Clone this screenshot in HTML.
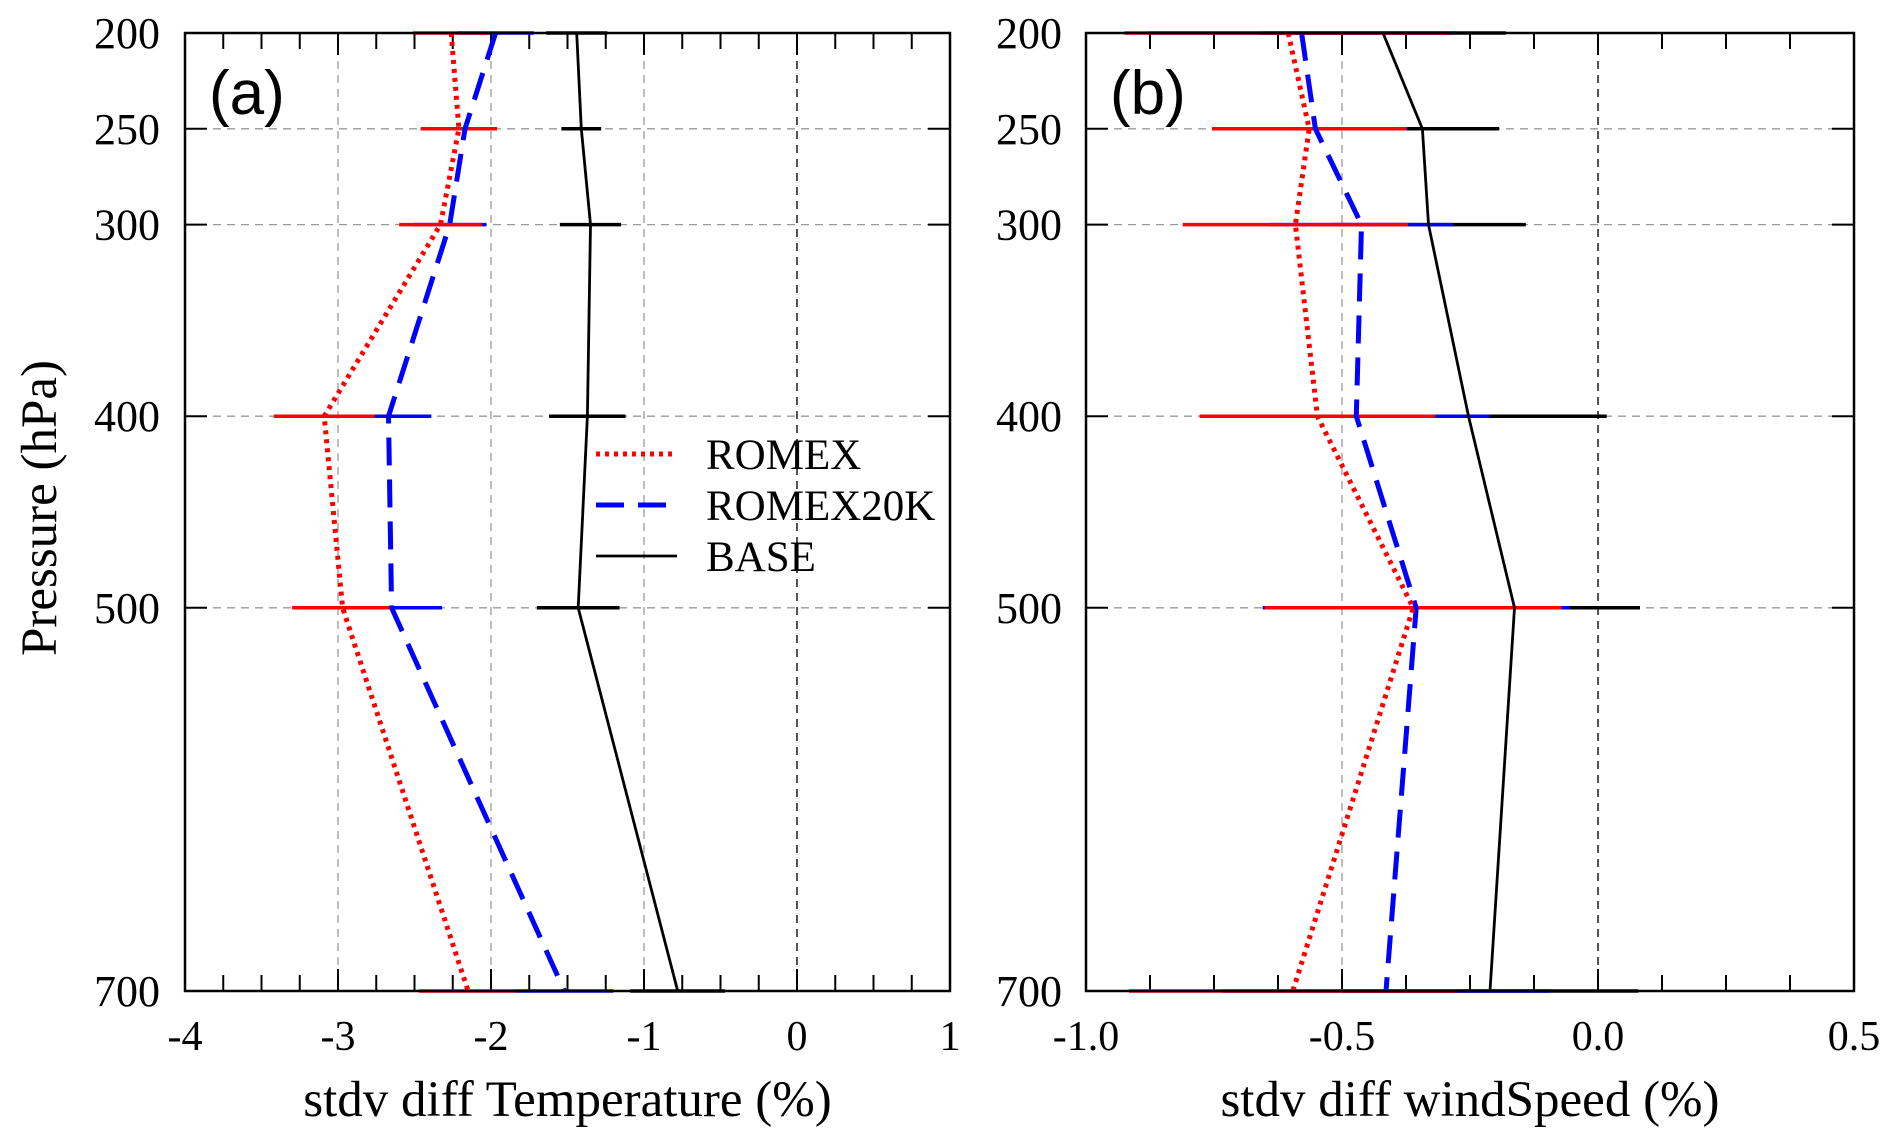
<!DOCTYPE html>
<html><head><meta charset="utf-8"><style>
html,body{margin:0;padding:0;background:#fff}
svg{display:block}
text{font-family:"Liberation Serif",serif;fill:#000}
</style></head><body>
<svg id="chart" width="1892" height="1145" viewBox="0 0 1892 1145" xmlns="http://www.w3.org/2000/svg"></svg>
<script>
const pressures=[200,250,300,400,500,700];
const tempRomex=[-2.26,-2.21,-2.33,-3.09,-2.97,-2.15];
const tempRomexErr=[0.25,0.25,0.27,0.33,0.33,0.32];
const tempRomex20k=[-1.97,-2.17,-2.27,-2.67,-2.65,-1.52];
const tempRomex20kErr=[0.25,0.17,0.24,0.28,0.33,0.32];
const tempBase=[-1.44,-1.41,-1.35,-1.37,-1.43,-0.78];
const tempBaseErr=[0.2,0.13,0.2,0.25,0.27,0.31];
const windRomex=[-0.605,-0.564,-0.591,-0.548,-0.361,-0.596];
const windRomexErr=[0.32,0.19,0.22,0.23,0.29,0.32];
const windRomex20k=[-0.579,-0.552,-0.462,-0.472,-0.355,-0.414];
const windRomex20kErr=[0.3,0.18,0.18,0.26,0.3,0.32];
const windBase=[-0.42,-0.343,-0.331,-0.253,-0.163,-0.211];
const windBaseErr=[0.24,0.15,0.19,0.27,0.245,0.29];
const tempTicks=[-4,-3,-2,-1,0,1];
const tempTickLabels=["-4","-3","-2","-1","0","1"];
const windTicks=[-1.0,-0.5,0.0,0.5];
const windTickLabels=["-1.0","-0.5","0.0","0.5"];
const legendLabels=["ROMEX","ROMEX20K","BASE"];

const NS="http://www.w3.org/2000/svg";
const svg=document.getElementById('chart');
function mk(tag,attrs,parent){const e=document.createElementNS(NS,tag);for(const k in attrs)e.setAttribute(k,attrs[k]);(parent||svg).appendChild(e);return e;}
const TOP=33,BOT=991;
function yScale(p){return TOP+(p-200)/500*(BOT-TOP);}

function panel(cfg){
  const g=mk('g',{});
  
  
  const L=cfg.left,R=cfg.right;
  const xs=v=>L+(v-cfg.min)/(cfg.max-cfg.min)*(R-L);
  cfg.ticks.forEach(t=>{
    if(t===cfg.min||t===cfg.max)return;
    const l=mk('line',{x1:xs(t),x2:xs(t),y1:TOP,y2:BOT,stroke:t===0?'#555':'#999','stroke-width':t===0?2:1.3,'stroke-dasharray':'8,6'},g);
    
    
  });
  pressures.forEach(p=>{
    if(p===200||p===700)return;
    const l=mk('line',{x1:L,x2:R,y1:yScale(p),y2:yScale(p),stroke:'#999','stroke-width':1.3,'stroke-dasharray':'8,6'},g);
    
    
  });
  for(let v=cfg.min;v<=cfg.max+1e-9;v+=cfg.minor){
    const x=xs(v);
    const major=cfg.ticks.some(t=>Math.abs(t-v)<1e-6);
    const len=major?22:16;
    mk('line',{x1:x,x2:x,y1:BOT,y2:BOT-len,stroke:'#000','stroke-width':2},g);
    mk('line',{x1:x,x2:x,y1:TOP,y2:TOP+len,stroke:'#000','stroke-width':2},g);
  }
  pressures.forEach(p=>{
    const y=yScale(p);
    mk('line',{x1:L,x2:L+22,y1:y,y2:y,stroke:'#000','stroke-width':2},g);
    mk('line',{x1:R,x2:R-22,y1:y,y2:y,stroke:'#000','stroke-width':2},g);
    const t=mk('text',{x:cfg.labelRight,y:y+15,'font-size':44,'text-anchor':'end'},g);
    t.textContent=p;
    
    
  });
  cfg.ticks.forEach((t,i)=>{
    const tx=mk('text',{x:xs(t),y:1050,'font-size':42,'text-anchor':'middle'},g);
    tx.textContent=cfg.tickLabels[i];
    
    
  });
  const series=[
    {v:cfg.base,e:cfg.baseErr,c:'#000',d:'none',w:2.8,n:'base'},
    {v:cfg.r20,e:cfg.r20Err,c:'#0000ff',d:'28,14',w:5,n:'romex20k'},
    {v:cfg.r,e:cfg.rErr,c:'#ff0000',d:'4,5',w:5,n:'romex'}];
  series.forEach(s=>{
    pressures.forEach((p,i)=>{
      const y=yScale(p);
      const b=mk('line',{x1:xs(s.v[i]-s.e[i]),x2:xs(s.v[i]+s.e[i]),y1:y,y2:y,stroke:s.c,'stroke-width':3.5},g);
      
      
    });
  });
  series.forEach(s=>{
    const pts=pressures.map((p,i)=>xs(s.v[i]).toFixed(1)+','+yScale(p).toFixed(1)).join(' ');
    const pl=mk('polyline',{points:pts,fill:'none',stroke:s.c,'stroke-width':s.w,'stroke-dasharray':s.d},g);
    
    
  });
  const fr=mk('rect',{x:L,y:TOP,width:R-L,height:BOT-TOP,fill:'none',stroke:'#000','stroke-width':2.5},g);
  
  
  const pl=mk('text',{x:L+24,y:114,'font-size':62,style:'font-family:"Liberation Sans",sans-serif'},g);
  pl.textContent=cfg.panelLabel;
  
  
  const xt=mk('text',{x:(L+R)/2,y:1116,'font-size':51,'text-anchor':'middle'},g);
  xt.textContent=cfg.title;
  
  
  return xs;
}
panel({name:'panel-a-temperature',left:185,right:950,min:-4,max:1,minor:0.25,ticks:tempTicks,tickLabels:tempTickLabels,labelRight:160,
  r:tempRomex,rErr:tempRomexErr,r20:tempRomex20k,r20Err:tempRomex20kErr,base:tempBase,baseErr:tempBaseErr,panelLabel:'(a)',title:'stdv diff Temperature (%)'});
panel({name:'panel-b-windspeed',left:1086,right:1854,min:-1,max:0.5,minor:0.125,ticks:windTicks,tickLabels:windTickLabels,labelRight:1062,
  r:windRomex,rErr:windRomexErr,r20:windRomex20k,r20Err:windRomex20kErr,base:windBase,baseErr:windBaseErr,panelLabel:'(b)',title:'stdv diff windSpeed (%)'});

const yt=mk('text',{x:0,y:0,'font-size':51,'text-anchor':'middle',transform:'translate(56,508) rotate(-90)'});
yt.textContent='Pressure (hPa)';



const lg=mk('g',{});


const legStyles=[{c:'#ff0000',d:'4,5',w:5},{c:'#0000ff',d:'28,14',w:5},{c:'#000',d:'none',w:2.8}];
legendLabels.forEach((lab,i)=>{
  const y=454+i*51;
  const ln=mk('line',{x1:596,x2:677,y1:y,y2:y,stroke:legStyles[i].c,'stroke-width':legStyles[i].w,'stroke-dasharray':legStyles[i].d},lg);
  
  
  const t=mk('text',{x:706,y:y+15,'font-size':43},lg);
  t.textContent=lab;
  
  
});
</script>
</body></html>
